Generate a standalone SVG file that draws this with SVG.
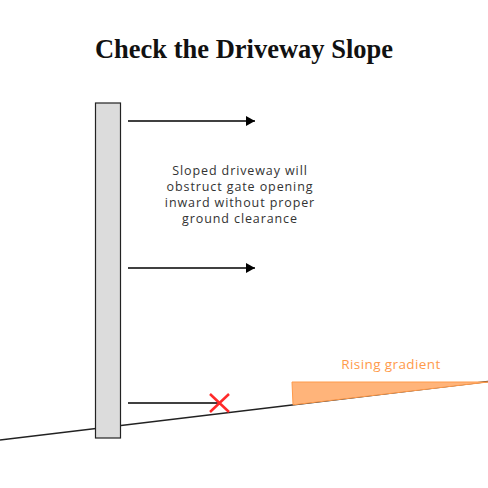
<svg xmlns="http://www.w3.org/2000/svg" width="488" height="488" viewBox="0 0 488 488">
<style>
.title{font-family:"Liberation Serif","DejaVu Serif",serif;font-weight:bold;font-size:26.5px;fill:#111;text-anchor:middle}
.body{font-family:"Open Sans","Liberation Sans",sans-serif;font-size:12.5px;letter-spacing:0.9px;fill:#333;text-anchor:middle}
.orange{font-family:"Open Sans","Liberation Sans",sans-serif;font-size:13.5px;letter-spacing:0.4px;fill:#FF9A4A;text-anchor:middle}
.arrow{stroke:#000;stroke-width:1.5;fill:none}
</style>
<defs>
<marker id="ah" markerWidth="10" markerHeight="10" refX="9" refY="5" orient="auto" markerUnits="userSpaceOnUse">
<path d="M0,0 L9,5 L0,10 Z" fill="#000"/>
</marker>
</defs>
<rect width="488" height="488" fill="#fff"/>
<text class="title" x="244" y="58">Check the Driveway Slope</text>
<g id="ground">
<line x1="0" y1="440" x2="488" y2="381.5" stroke="#222" stroke-width="1.5"/>
</g>
<g id="gradient">
<polygon points="292,382 488,382 293,404.8" fill="#FFB47A" stroke="#FF9A4A" stroke-width="1"/>
<text class="orange" x="391" y="369">Rising gradient</text>
</g>
<g id="gate">
<rect x="95.5" y="103" width="25" height="335" fill="#DCDCDC" stroke="#222" stroke-width="1.2"/>
</g>
<g id="connectors">
<line class="arrow" x1="128" y1="121" x2="255" y2="121" marker-end="url(#ah)"/>
<line class="arrow" x1="128" y1="268" x2="255" y2="268" marker-end="url(#ah)"/>
<line class="arrow" x1="128" y1="403" x2="220" y2="403"/>
</g>
<g id="blocked">
<path d="M210,394 L229,412 M229,394 L210,412" stroke="#FF2A2A" stroke-width="2.5" fill="none"/>
</g>
<g id="note">
<text class="body" x="240" y="175">Sloped driveway will</text>
<text class="body" x="240" y="191">obstruct gate opening</text>
<text class="body" x="240" y="207">inward without proper</text>
<text class="body" x="240" y="223">ground clearance</text>
</g>
</svg>
